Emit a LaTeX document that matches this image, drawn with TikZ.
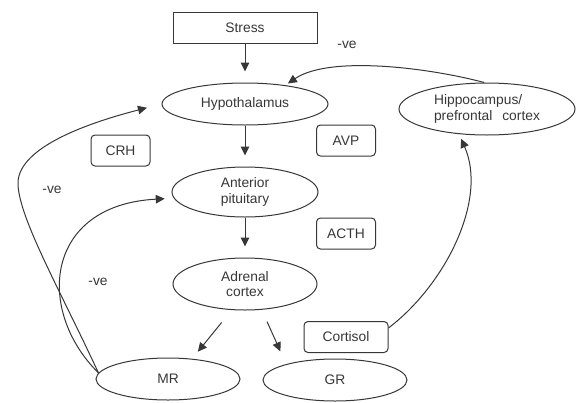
\documentclass[tikz,border=0pt]{standalone}
\usepackage{fontspec}
\setmainfont{Liberation Sans}
\usetikzlibrary{shapes.geometric, arrows.meta}

\definecolor{ink}{RGB}{55,55,55}

\begin{document}
\begin{tikzpicture}[x=1pt, y=-1pt, color=ink, line width=1pt,
  every node/.style={font=\fontsize{13.8}{15.5}\selectfont, text=ink},
  oval/.style={draw, ellipse, inner sep=0pt, align=center},
  hormone/.style={draw, rounded corners=4pt, minimum width=59pt, minimum height=31pt, inner sep=0pt},
  arr/.style={-{Triangle[length=9pt,width=8.5pt]}}]
  \useasboundingbox (0,0) rectangle (581,402);

  \node[draw, minimum width=144pt, minimum height=31pt] (stress) at (245,27.5) {Stress};
  \node[oval, minimum width=166pt, minimum height=42pt] (hyp) at (245,104) {Hypothalamus};
  \node[oval, minimum width=146pt, minimum height=50pt] (ap) at (245,192) {Anterior\\pituitary};
  \node[oval, minimum width=144pt, minimum height=52pt] (ac) at (245,284) {Adrenal\\cortex};
  \node[oval, minimum width=144pt, minimum height=42pt] (mr) at (168,379) {MR};
  \node[oval, minimum width=144pt, minimum height=42pt] (gr) at (335,380) {GR};
  \node[oval, minimum width=176pt, minimum height=52pt, align=left] (hip) at (487,109) {Hippocampus/\\prefrontal\hspace{10pt}cortex};

  \node[hormone] (crh) at (120.5,150.5) {CRH};
  \node[hormone] (avp) at (346,140.5) {AVP};
  \node[hormone] (acth) at (346,233.5) {ACTH};
  \node[hormone, minimum width=84pt] (cort) at (346,337) {Cortisol};

  \node (vetop) at (347,45) {-ve};
  \node (veout) at (52,190) {-ve};
  \node (vein) at (98,282) {-ve};

  % main axis
  \draw[arr, shorten >=11pt] (stress) -- (hyp);
  \draw[arr, shorten >=11pt] (hyp) -- (ap);
  \draw[arr, shorten >=11pt] (ap) -- (ac);
  \draw[arr, shorten <=16pt, shorten >=9pt] (ac.243) -- (mr.40);
  \draw[arr, shorten <=13pt, shorten >=14pt] (ac.303) -- (gr.162);

  % feedback loops
  \draw[arr, shorten >=5pt] (cort.12) .. controls (445,285) and (488,200) .. (hip.222);
  \draw[arr, shorten >=3pt] (hip.96) .. controls (430,68) and (330,55) .. (hyp.25);
  \draw[arr, shorten >=15pt] (mr.175) .. controls (60,290) and (20,220) .. (18,185)
    .. controls (16,150) and (80,125) .. (hyp.west);
  \draw[arr, shorten >=9pt] (mr.175) .. controls (35,310) and (45,205) .. (ap.185);
\end{tikzpicture}
\end{document}
